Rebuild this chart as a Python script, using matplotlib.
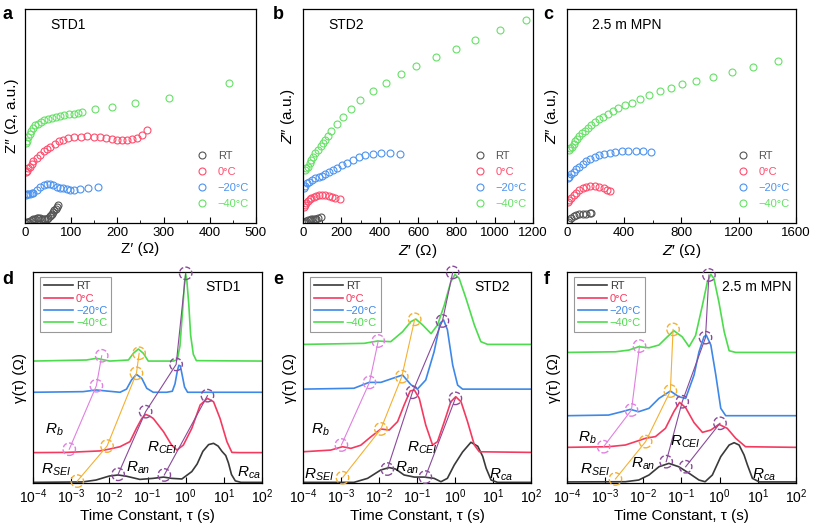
import numpy as np
import matplotlib
matplotlib.use("Agg")
import matplotlib.pyplot as plt

plt.rcParams['font.family'] = ['Liberation Sans', 'DejaVu Sans']
plt.rcParams['mathtext.fontset'] = 'custom'
plt.rcParams['mathtext.rm'] = 'Liberation Sans'
plt.rcParams['mathtext.it'] = 'Liberation Sans:italic'

temp_labels = ['RT', '0\u00b0C', '\u221220\u00b0C', '\u221240\u00b0C']
nyq_colors = ['#555555', '#ff4d6d', '#4d94f0', '#66e066']
drt_colors = ['#3a3a3a', '#f53a60', '#3d88e8', '#4ddc4d']

# ---------------- Nyquist data: Z' (ohm), Z'' (a.u., stacked) ----------------
a_rt_x = [0, 4, 7, 11, 14, 18, 22, 25, 29, 33, 36, 40, 43, 47, 50, 53, 56, 58, 61, 63, 66, 69, 72]
a_rt_y = [0.2, 0.4, 0.5, 0.9, 1.3, 1.7, 2.0, 2.3, 2.4, 2.3, 2.0, 1.8, 1.7, 2.0, 2.6, 3.3, 3.9, 4.4, 5.2, 6.0, 6.8, 7.5, 8.6]
a_0c_x = [1, 3.6, 7.2, 10.8, 14.5, 18, 25, 32.5, 40, 47, 54, 65, 74, 83, 94, 106, 121, 135, 150, 163, 176, 188, 199, 210, 220, 231, 242, 253, 264]
a_0c_y = [23.8, 24.4, 25.6, 26.4, 27.5, 28.8, 30.3, 31.9, 33.5, 34.7, 35.7, 36.9, 38.2, 39.0, 39.6, 40.1, 40.4, 40.6, 40.4, 40.1, 39.8, 39.3, 39.0, 38.8, 38.8, 39.2, 39.8, 41.0, 43.7]
a_20c_x = [1, 3.6, 7, 10.8, 14, 18, 25, 32.5, 40, 47, 54, 61, 69, 76, 83, 90, 98, 106, 119, 137, 158]
a_20c_y = [13.3, 13.5, 13.6, 13.8, 14.0, 14.3, 15.4, 16.7, 17.6, 18.1, 18.1, 17.8, 17.1, 16.5, 16.2, 15.9, 15.7, 15.7, 15.9, 16.2, 16.8]
a_40c_x = [3, 5, 7, 10, 13, 17, 22, 28, 35, 42, 50, 58, 66, 75, 85, 95, 105, 115, 124, 152, 189, 238, 311, 441]
a_40c_y = [37.5, 38.2, 40.1, 41.7, 43.2, 44.5, 45.6, 46.5, 47.3, 48.0, 48.4, 49.1, 49.5, 50.0, 50.5, 50.8, 51.1, 51.6, 52.0, 53.1, 54.2, 56.0, 58.6, 65.3]

b_rt_x = [3, 9, 17, 26, 35, 43, 52, 61, 70, 78, 92]
b_rt_y = [0.2, 0.5, 0.9, 1.3, 1.6, 1.9, 2.0, 2.0, 2.0, 2.2, 2.8]
b_0c_x = [3, 9, 17, 26, 35, 43, 56, 70, 83, 99, 117, 134, 151, 169, 191]
b_0c_y = [7.5, 8.3, 9.4, 10.4, 11.2, 11.8, 12.3, 12.7, 13.1, 13.1, 13.1, 12.7, 12.3, 11.8, 11.5]
b_20c_x = [5, 12, 21, 31, 47, 64, 82, 99, 117, 136, 157, 179, 203, 231, 261, 290, 322, 365, 409, 452, 504]
b_20c_y = [16.2, 17.5, 18.6, 19.3, 20.1, 20.9, 21.5, 22.2, 22.8, 23.7, 24.8, 25.9, 27.2, 28.3, 29.6, 30.7, 31.6, 32.2, 32.7, 32.7, 32.2]
b_40c_x = [9, 17, 26, 35, 43, 52, 64, 78, 92, 104, 117, 130, 148, 177, 209, 252, 299, 365, 431, 513, 591, 692, 800, 896, 1028, 1165]
b_40c_y = [24.8, 25.6, 26.4, 28.0, 29.6, 31.1, 32.7, 34.3, 35.8, 37.4, 39.0, 40.6, 42.9, 46.1, 49.5, 53.5, 57.4, 61.5, 65.4, 69.5, 73.6, 77.5, 81.4, 85.7, 90.1, 94.8]

c_rt_x = [5, 16, 30, 47, 65, 86, 110, 136, 164, 170]
c_rt_y = [0.5, 1.6, 2.5, 3.3, 3.9, 4.2, 4.4, 4.4, 4.6, 4.7]
c_0c_x = [5, 16, 30, 47, 65, 86, 110, 136, 164, 194, 227, 257, 280, 304]
c_0c_y = [9.9, 10.7, 11.8, 13.1, 14.3, 15.4, 16.4, 17.0, 17.5, 17.5, 17.0, 16.2, 15.4, 14.9]
c_20c_x = [5, 16, 30, 47, 65, 86, 110, 136, 164, 194, 227, 262, 299, 339, 381, 428, 479, 530, 584]
c_20c_y = [20.9, 21.7, 22.8, 24.1, 25.3, 26.4, 27.5, 28.8, 29.9, 30.8, 31.6, 32.2, 32.7, 33.2, 33.5, 33.6, 33.6, 33.5, 33.2]
c_40c_x = [12, 23, 35, 47, 58, 70, 86, 105, 124, 145, 168, 194, 222, 252, 285, 320, 357, 402, 451, 509, 572, 647, 724, 806, 904, 1021, 1150, 1301, 1477]
c_40c_y = [34.1, 34.9, 35.7, 36.9, 38.2, 39.5, 40.7, 42.0, 43.2, 44.5, 45.8, 47.2, 48.4, 49.7, 51.1, 52.4, 53.6, 55.0, 56.3, 57.9, 59.7, 61.5, 63.1, 64.9, 66.5, 68.4, 70.6, 73.0, 75.6]

# ---------------- DRT data: log10(tau/s), gamma (a.u., stacked) ----------------
d_rt_t = [-4.0, -2.7, -2.35, -2.0, -1.77, -1.55, -1.2, -0.85, -0.58, -0.37, -0.1, 0.16, 0.3, 0.45, 0.6, 0.73, 0.85, 0.95, 1.05, 1.12, 1.2, 1.3, 1.45, 2.0]
d_rt_y = [0.3, 0.5, 1.4, 3.3, 3.8, 3.2, 1.7, 2.2, 2.8, 2.2, 1.9, 5.4, 9.0, 15.0, 18.2, 18.8, 17.5, 15.0, 13.0, 9.5, 4.0, 1.0, 0.3, 0.3]
d_0c_t = [-4.0, -3.12, -2.25, -1.99, -1.72, -1.46, -1.29, -1.15, -1.05, -0.95, -0.85, -0.58, -0.37, -0.23, -0.06, 0.16, 0.38, 0.57, 0.73, 0.9, 1.08, 1.21, 1.4, 2.0]
d_0c_y = [14.4, 14.5, 15.2, 16.1, 17.2, 19.6, 25.9, 30.6, 32.5, 31.8, 30.6, 24.3, 18.0, 15.6, 18.0, 25.9, 37.0, 40.1, 38.5, 30.6, 19.6, 14.5, 14.4, 14.4]
d_20c_t = [-4.0, -2.69, -2.34, -2.07, -1.72, -1.55, -1.42, -1.29, -1.15, -1.02, -0.85, -0.5, -0.35, -0.28, -0.22, -0.18, -0.14, -0.09, -0.03, 0.05, 2.0]
d_20c_y = [43.0, 43.3, 44.1, 43.6, 43.0, 44.5, 48.8, 51.5, 49.6, 44.9, 43.0, 43.0, 43.5, 47.0, 53.0, 55.8, 55.5, 51.0, 45.5, 43.0, 43.0]
d_40c_t = [-4.0, -2.6, -2.34, -1.99, -1.5, -1.37, -1.24, -1.11, -0.98, -0.32, -0.22, -0.15, -0.08, -0.03, 0.0, 0.03, 0.08, 0.13, 0.2, 0.28, 2.0]
d_40c_y = [57.8, 58.3, 59.1, 57.8, 58.3, 61.5, 63.5, 61.5, 57.8, 57.8, 58.5, 65.0, 82.0, 95.0, 98.9, 96.0, 85.0, 70.0, 61.0, 58.0, 57.8]

e_rt_t = [-4.0, -2.66, -2.3, -1.95, -1.73, -1.56, -1.34, -1.07, -0.81, -0.55, -0.37, -0.2, -0.02, 0.2, 0.42, 0.6, 0.73, 0.82, 0.95, 1.12, 2.0]
e_rt_y = [0.3, 0.3, 2.2, 6.2, 7.3, 6.6, 3.8, 2.8, 2.8, 2.2, 0.6, 2.2, 8.5, 14.7, 19.3, 17.4, 12.6, 7.0, 1.4, 0.3, 0.3]
e_0c_t = [-4.0, -3.27, -2.96, -2.74, -2.48, -2.22, -1.95, -1.73, -1.51, -1.34, -1.18, -1.07, -0.94, -0.77, -0.59, -0.46, -0.28, -0.11, 0.02, 0.16, 0.33, 0.51, 0.64, 2.0]
e_0c_y = [14.8, 15.6, 17.2, 16.4, 17.9, 21.8, 25.6, 25.1, 29.1, 36.9, 43.6, 44.1, 40.1, 27.5, 18.0, 19.6, 29.1, 38.5, 40.9, 38.5, 29.1, 18.0, 14.8, 14.5]
e_20c_t = [-4.0, -2.66, -2.26, -1.95, -1.69, -1.38, -1.16, -0.99, -0.77, -0.55, -0.39, -0.3, -0.2, -0.06, 0.07, 0.2, 2.0]
e_20c_y = [44.5, 44.9, 47.7, 47.7, 49.3, 51.2, 46.6, 44.5, 48.8, 62.2, 75.8, 77.3, 72.7, 55.9, 46.4, 44.5, 44.5]
e_40c_t = [-4.0, -2.39, -2.04, -1.69, -1.38, -1.16, -1.03, -0.85, -0.63, -0.46, -0.28, -0.11, 0.0, 0.11, 0.29, 0.51, 0.68, 0.86, 2.0]
e_40c_y = [65.7, 66.2, 67.3, 67.0, 71.7, 76.5, 77.7, 74.9, 70.8, 74.9, 84.4, 95.4, 98.9, 97.0, 87.5, 74.9, 67.0, 65.7, 65.7]

f_rt_t = [-4.0, -2.47, -2.12, -1.85, -1.59, -1.33, -1.07, -0.8, -0.54, -0.38, -0.19, 0.03, 0.25, 0.38, 0.51, 0.64, 0.73, 0.86, 1.04, 2.0]
f_rt_y = [0.5, 0.6, 1.4, 3.8, 7.7, 9.3, 7.7, 4.6, 1.4, 0.6, 3.8, 12.5, 18.0, 19.1, 18.0, 13.3, 8.5, 2.2, 0.5, 0.5]
f_0c_t = [-4.0, -2.91, -2.47, -2.12, -1.94, -1.68, -1.42, -1.2, -1.05, -0.89, -0.67, -0.45, -0.23, -0.02, 0.2, 0.42, 0.68, 2.0]
f_0c_y = [16.9, 17.2, 18.0, 20.1, 21.2, 22.0, 25.9, 33.8, 38.2, 35.7, 28.6, 24.0, 25.1, 27.8, 25.9, 21.2, 17.2, 16.9]
f_20c_t = [-4.0, -2.91, -2.56, -2.34, -2.12, -1.85, -1.59, -1.29, -1.07, -0.89, -0.67, -0.54, -0.41, -0.35, -0.23, -0.1, 0.03, 0.16, 2.0]
f_20c_y = [31.9, 32.2, 33.8, 34.9, 33.8, 35.4, 40.1, 43.6, 40.9, 40.1, 51.2, 62.2, 69.3, 70.1, 65.4, 51.2, 35.4, 31.9, 31.9]
f_40c_t = [-4.0, -2.73, -2.38, -2.12, -1.85, -1.59, -1.37, -1.2, -0.98, -0.8, -0.63, -0.45, -0.32, -0.23, -0.15, -0.02, 0.12, 0.25, 0.42, 2.0]
f_40c_y = [61.9, 62.2, 63.0, 64.6, 64.1, 65.4, 69.3, 72.2, 69.3, 64.6, 69.9, 84.3, 95.4, 98.9, 97.0, 85.9, 71.7, 62.7, 61.9, 61.9]

# peak markers (log10 tau, gamma): Rb, RSEI, Ran, RCEI chains
d_rb = ([-3.05, -2.34, -2.2], [16.0, 46.1, 60.3])
d_rsei = ([-2.84, -2.06, -1.29, -1.22], [0.9, 17.5, 52.0, 61.5])
d_ran = ([-1.77, -1.05, -0.25, 0.0], [4.1, 33.8, 56.2, 99.4])
d_rcei = ([-0.56, 0.57], [3.8, 41.4])
e_rb = ([-2.99, -2.25, -2.02], [18.0, 47.7, 67.3])
e_rsei = ([-2.96, -1.95, -1.40, -1.06], [2.5, 25.6, 50.4, 77.6])
e_ran = ([-1.78, -1.12, -0.33, -0.06], [6.6, 43.0, 76.8, 99.8])
e_rcei = ([-0.78, 0.01], [2.8, 40.1])
f_rb = ([-3.04, -2.31, -2.10], [17.2, 34.6, 64.9])
f_rsei = ([-2.73, -1.94, -1.29, -1.22], [1.9, 19.6, 43.6, 72.8])
f_ran = ([-1.40, -0.98, -0.37, -0.28], [10.1, 38.5, 68.9, 98.6])
f_rcei = ([-0.89, 0.01], [7.7, 28.3])

chain_colors = ['#e080e0', '#f5b030', '#8a4a9a', '#8a4a9a']

fig = plt.figure(figsize=(8.13, 5.30), dpi=100)


def style_axes(ax):
    ax.tick_params(axis='x', which='both', direction='in', labelsize=9.5, pad=3)
    ax.tick_params(axis='x', which='major', length=4, width=0.8)
    ax.tick_params(axis='x', which='minor', length=2, width=0.6)
    ax.set_yticks([])
    for s in ax.spines.values():
        s.set_linewidth(0.9)


def nyquist(rect, xs, ys, xmax, step, ylabel, title, xlab):
    ax = fig.add_axes(rect)
    for i in range(4):
        ax.plot(xs[i], ys[i], 'o', mfc='none', mec=nyq_colors[i], ms=5, mew=0.8,
                label=temp_labels[i])
    ax.set_xlim(0, xmax)
    ax.set_ylim(0, 100)
    ax.set_xticks(np.arange(0, xmax + 1, step))
    ax.set_xticks(np.arange(step / 2, xmax, step), minor=True)
    style_axes(ax)
    ax.set_xlabel(xlab, fontsize=11, labelpad=2)
    ax.set_ylabel(ylabel, fontsize=11, labelpad=4)
    ax.text(0.11, 0.925, title, transform=ax.transAxes, fontsize=10, va='center')
    leg = ax.legend(loc='lower left', bbox_to_anchor=(0.70, 0.02), frameon=False,
                    fontsize=8, handletextpad=0.9, labelspacing=0.55, handlelength=1.0)
    for t, c in zip(leg.get_texts(), nyq_colors):
        t.set_color(c)
    return ax


nyquist([0.0308, 0.579, 0.284, 0.404],
        [a_rt_x, a_0c_x, a_20c_x, a_40c_x], [a_rt_y, a_0c_y, a_20c_y, a_40c_y],
        500, 100, 'Z\u2033 (\u03a9, a.u.)', 'STD1', 'Z\u2032 (\u03a9)')
nyquist([0.3727, 0.579, 0.283, 0.404],
        [b_rt_x, b_0c_x, b_20c_x, b_40c_x], [b_rt_y, b_0c_y, b_20c_y, b_40c_y],
        1200, 200, '$Z$\u2033 (a.u.)', 'STD2', '$Z$\u2032 (\u03a9)')
nyquist([0.6974, 0.579, 0.2816, 0.404],
        [c_rt_x, c_0c_x, c_20c_x, c_40c_x], [c_rt_y, c_0c_y, c_20c_y, c_40c_y],
        1600, 400, '$Z$\u2033 (a.u.)', '2.5 m MPN', '$Z$\u2032 (\u03a9)')


def drt(rect, ts, ys, chains, title, labels):
    ax = fig.add_axes(rect)
    ax.set_xscale('log')
    for i in range(4):
        ax.plot(10 ** np.array(ts[i]), ys[i], color=drt_colors[i], lw=1.2,
                label=temp_labels[i])
    for (ct, cy), col in zip(chains, chain_colors):
        ax.plot(10 ** np.array(ct), cy, color=col, lw=0.8, zorder=3)
        ax.scatter(10 ** np.array(ct), cy, s=80, facecolors='none', edgecolors=col,
                   linewidths=1.0, linestyles='--', zorder=4, clip_on=False)
    for txt, (lt, yy) in labels.items():
        ax.text(10 ** lt, yy, txt, fontsize=11, ha='center', va='center')
    ax.set_xlim(1e-4, 1e2)
    ax.set_ylim(0, 100)
    ax.set_xticks([10.0 ** k for k in range(-4, 3)])
    style_axes(ax)
    ax.tick_params(axis='x', which='major', labelsize=10)
    ax.set_xlabel('Time Constant, \u03c4 (s)', fontsize=11, labelpad=2)
    ax.set_ylabel('\u03b3(\u03c4) (\u03a9)', fontsize=11, labelpad=4)
    ax.text(0.83, 0.93, title, transform=ax.transAxes, fontsize=10, ha='center', va='center')
    leg = ax.legend(loc='upper left', bbox_to_anchor=(0.02, 0.985), fontsize=8,
                    fancybox=False, edgecolor='#999999', framealpha=1,
                    handlelength=2.6, handletextpad=0.3, labelspacing=0.2,
                    borderpad=0.35, borderaxespad=0.2)
    leg.get_frame().set_linewidth(0.8)
    for t, c in zip(leg.get_texts(), drt_colors):
        t.set_color(c)
    return ax


drt([0.0406, 0.0887, 0.2817, 0.398],
    [d_rt_t, d_0c_t, d_20c_t, d_40c_t], [d_rt_y, d_0c_y, d_20c_y, d_40c_y],
    [d_rb, d_rsei, d_ran, d_rcei], 'STD1',
    {'$R_b$': (-3.43, 25), '$R_{SEI}$': (-3.39, 6.2), '$R_{an}$': (-1.25, 7.0),
     '$R_{CEI}$': (-0.62, 16.5)})
drt([0.3727, 0.0887, 0.2804, 0.398],
    [e_rt_t, e_0c_t, e_20c_t, e_40c_t], [e_rt_y, e_0c_y, e_20c_y, e_40c_y],
    [e_rb, e_rsei, e_ran, e_rcei], 'STD2',
    {'$R_b$': (-3.55, 25.1), '$R_{SEI}$': (-3.58, 3.8), '$R_{an}$': (-1.25, 7.0),
     '$R_{CEI}$': (-0.85, 16.5), '$R_{ca}$': (1.21, 3.8)})
drt([0.6974, 0.0887, 0.2816, 0.398],
    [f_rt_t, f_0c_t, f_20c_t, f_40c_t], [f_rt_y, f_0c_y, f_20c_y, f_40c_y],
    [f_rb, f_rsei, f_ran, f_rcei], '2.5 m MPN',
    {'$R_b$': (-3.47, 21.2), '$R_{SEI}$': (-3.26, 6.2), '$R_{an}$': (-1.99, 9.3),
     '$R_{CEI}$': (-0.89, 19.6), '$R_{ca}$': (1.17, 3.8)})

# R_ca label for panel d placed separately (right edge)
fig.axes[3].text(10 ** 1.65, 4.6, '$R_{ca}$', fontsize=11, ha='center', va='center')

for letter, x, y in [('a', 0.009, 0.973), ('b', 0.342, 0.973), ('c', 0.674, 0.973),
                     ('d', 0.009, 0.472), ('e', 0.342, 0.472), ('f', 0.673, 0.472)]:
    fig.text(x, y, letter, fontsize=13, fontweight='bold', ha='center', va='center')

fig.savefig('out.png', dpi=100)
